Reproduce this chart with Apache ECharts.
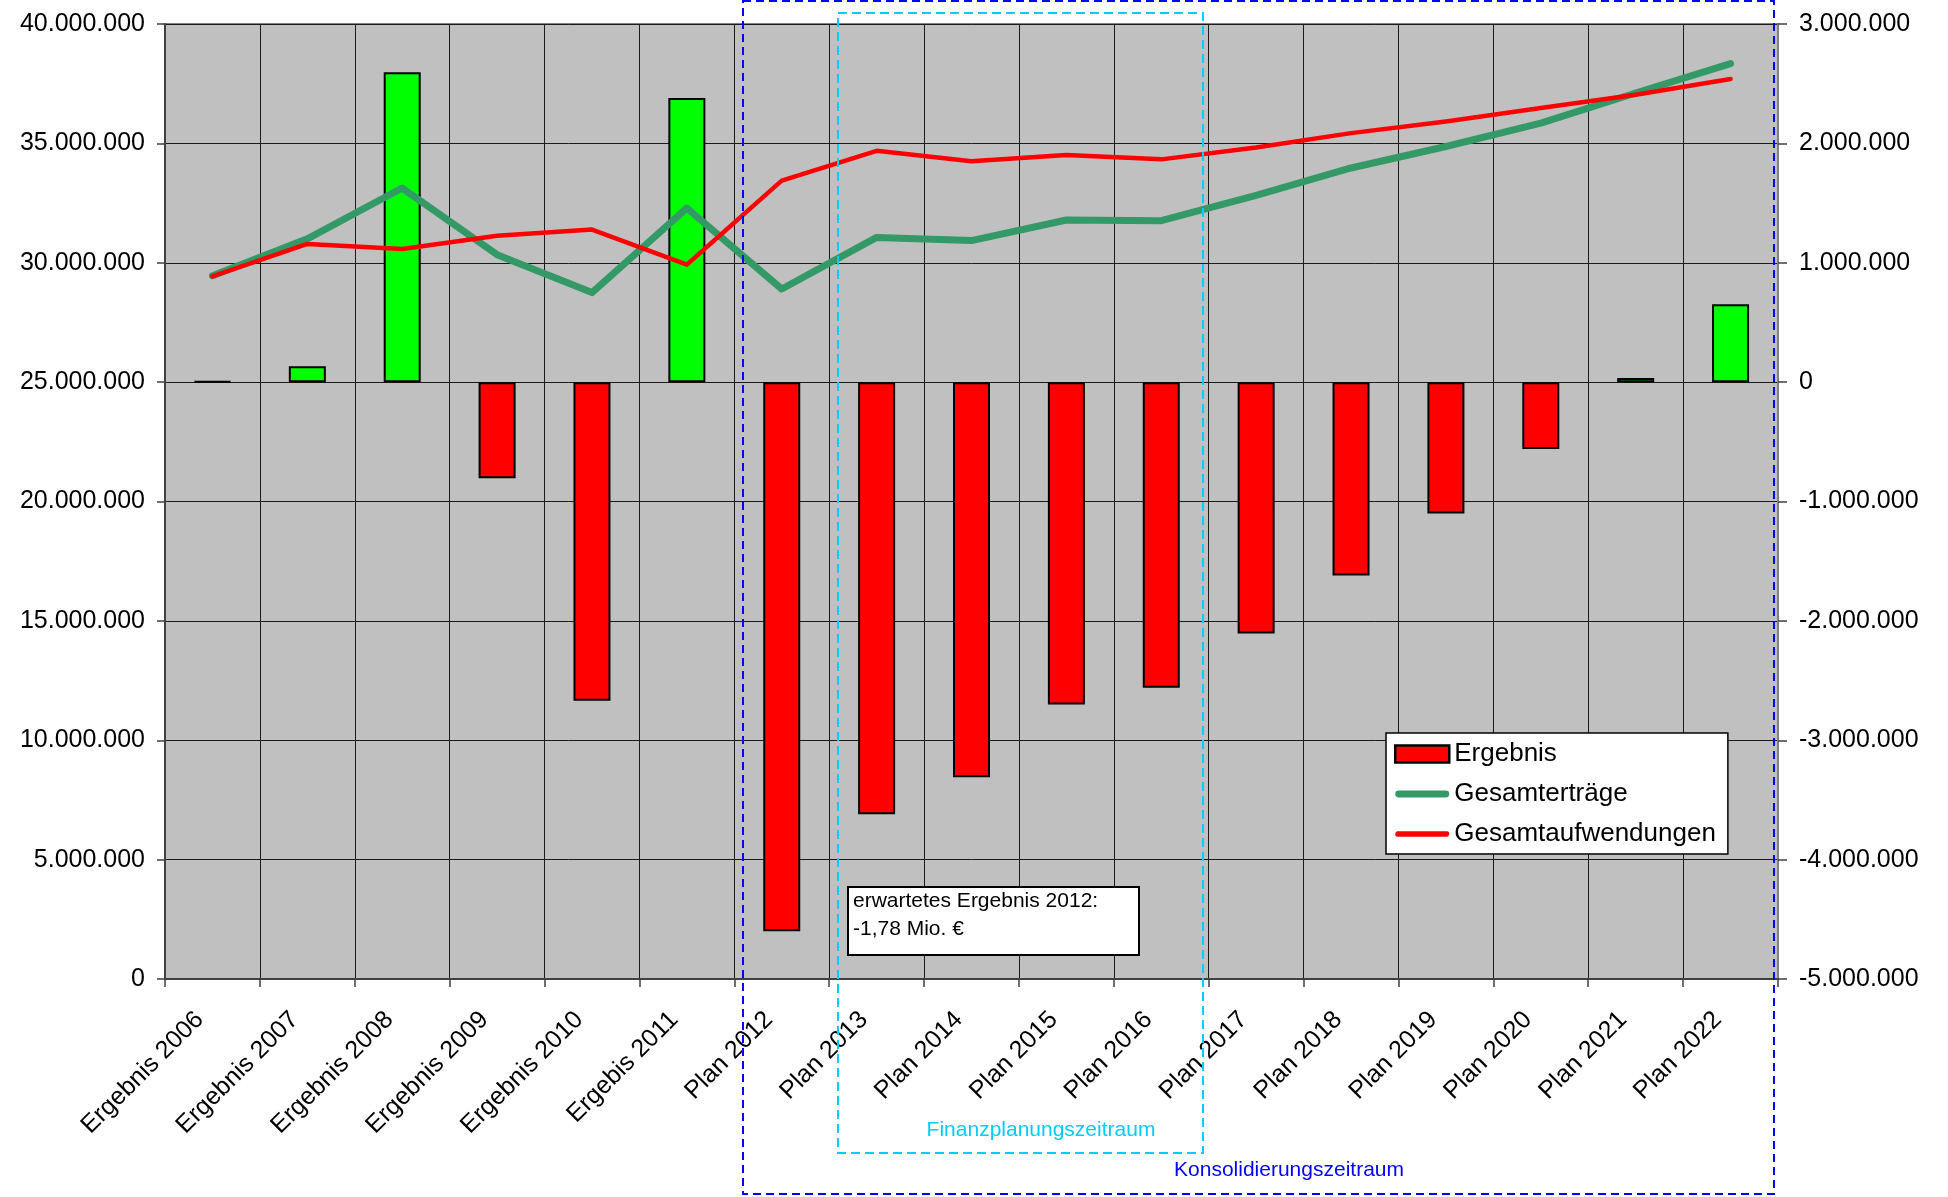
<!DOCTYPE html>
<html>
<head>
<meta charset="utf-8">
<script src="https://cdn.jsdelivr.net/npm/echarts@6/dist/echarts.min.js"></script>
<style>
html,body{margin:0;padding:0;background:#fff;}
#c{width:1948px;height:1197px;}
</style>
</head>
<body>
<div id="c"></div>
<script>
const categories = ['Ergebnis 2006','Ergebnis 2007','Ergebnis 2008','Ergebnis 2009','Ergebnis 2010','Ergebis 2011',
  'Plan 2012','Plan 2013','Plan 2014','Plan 2015','Plan 2016','Plan 2017','Plan 2018','Plan 2019','Plan 2020','Plan 2021','Plan 2022'];
const ergebnis = [8000, 132000, 2595000, -805000, -2670000, 2380000, -4600000, -3620000, -3310000, -2700000, -2560000, -2105000, -1620000, -1100000, -560000, 35000, 653000];
const gesamtertraege = [29460000, 31000000, 33130000, 30340000, 28750000, 32290000, 28900000, 31060000, 30930000, 31790000, 31760000, 32820000, 33970000, 34870000, 35850000, 37110000, 38340000];
const gesamtaufwendungen = [29430000, 30790000, 30580000, 31130000, 31390000, 29920000, 33440000, 34690000, 34250000, 34510000, 34330000, 34830000, 35430000, 35920000, 36480000, 37040000, 37700000];
const leftAxis = {min: 0, max: 40000000, interval: 5000000};
const rightAxis = {min: -5000000, max: 3000000, interval: 1000000};
const seriesNames = ['Ergebnis', 'Gesamterträge', 'Gesamtaufwendungen'];
const noteLines = ['erwartetes Ergebnis 2012:', '-1,78 Mio. €'];
const periodLabels = ['Finanzplanungszeitraum', 'Konsolidierungszeitraum'];

const FONT = '"Liberation Sans", Arial, sans-serif';
function fmt(v) {
  const s = Math.abs(Math.round(v)).toString().replace(/\B(?=(\d{3})+(?!\d))/g, '.');
  return (v < 0 ? '-' : '') + s;
}

const chart = echarts.init(document.getElementById('c'));
chart.setOption({
  animation: false,
  backgroundColor: '#ffffff',
  textStyle: {fontFamily: FONT},
  grid: {left: 165, top: 24, right: 170, bottom: 218, show: true, backgroundColor: '#C0C0C0',
         borderColor: '#808080', borderWidth: 2, containLabel: false, outerBoundsMode: 'none'},
  xAxis: {
    type: 'category', data: categories, boundaryGap: true,
    axisLine: {show: true, lineStyle: {color: '#404040', width: 2}},
    axisTick: {show: true, length: 8, interval: 0, lineStyle: {color: '#404040', width: 1.5}},
    axisLabel: {interval: 0, rotate: 45, fontSize: 25, color: '#000', fontFamily: FONT, margin: 24, padding: [0, 18, 0, 0], hideOverlap: false},
    splitLine: {show: true, interval: 0, lineStyle: {color: '#1a1a1a', width: 1}}
  },
  yAxis: [
    {type: 'value', position: 'left', min: leftAxis.min, max: leftAxis.max, interval: leftAxis.interval,
     axisLine: {show: true, lineStyle: {color: '#404040', width: 2}},
     axisTick: {show: true, length: 8, lineStyle: {color: '#404040', width: 1.5}},
     axisLabel: {fontSize: 25, color: '#000', fontFamily: FONT, margin: 20, formatter: fmt},
     splitLine: {show: true, lineStyle: {color: '#1a1a1a', width: 1}}},
    {type: 'value', position: 'right', min: rightAxis.min, max: rightAxis.max, interval: rightAxis.interval,
     axisLine: {show: true, lineStyle: {color: '#808080', width: 2}},
     axisTick: {show: true, length: 9, lineStyle: {color: '#404040', width: 1.5}},
     axisLabel: {fontSize: 25, color: '#000', fontFamily: FONT, margin: 21, formatter: fmt},
     splitLine: {show: false}}
  ],
  legend: {
    orient: 'vertical', left: 1386, top: 733,
    backgroundColor: '#ffffff', borderColor: '#000', borderWidth: 1.5,
    padding: [8, 12, 7, 8], itemGap: 14, itemWidth: 54, itemHeight: 17, itemTextGap: 7,
    textStyle: {fontSize: 26, color: '#000', fontFamily: FONT},
    selectedMode: false,
    data: [
      {name: seriesNames[0], icon: 'rect', itemStyle: {color: '#FF0000', borderColor: '#000', borderWidth: 2.5}},
      {name: seriesNames[1], icon: 'path://M6,0H94A6,6 0 0 1 94,13H6A6,6 0 0 1 6,0Z', itemStyle: {color: '#339966', borderWidth: 0}},
      {name: seriesNames[2], icon: 'path://M5,0H95A5,5 0 0 1 95,9.5H5A5,5 0 0 1 5,0Z', itemStyle: {color: '#FF0000', borderWidth: 0}}
    ]
  },
  series: [
    {name: seriesNames[0], type: 'bar', yAxisIndex: 1, barWidth: 37, z: 2,
     itemStyle: {color: '#FF0000', borderColor: '#000', borderWidth: 2},
     data: ergebnis.map(v => ({value: v, itemStyle: {color: v >= 0 ? '#00FF00' : '#FF0000'}}))},
    {name: seriesNames[1], type: 'line', yAxisIndex: 0, symbol: 'none', z: 3,
     itemStyle: {color: '#339966'},
     lineStyle: {color: '#339966', width: 7, cap: 'round', join: 'round'},
     data: gesamtertraege},
    {name: seriesNames[2], type: 'line', yAxisIndex: 0, symbol: 'none', z: 4,
     itemStyle: {color: '#FF0000'},
     lineStyle: {color: '#FF0000', width: 4.5, cap: 'round', join: 'round'},
     data: gesamtaufwendungen}
  ],
  graphic: [
    {type: 'rect', z: 100, silent: true, shape: {x: 743, y: 1, width: 1031, height: 1193},
     style: {fill: 'none', stroke: '#0000FF', lineWidth: 2, lineDash: [8, 5]}},
    {type: 'rect', z: 100, silent: true, shape: {x: 838, y: 13, width: 365, height: 1140},
     style: {fill: 'none', stroke: '#00CCFF', lineWidth: 2, lineDash: [9, 5]}},
    {type: 'text', z: 101, silent: true, x: 1041, y: 1130,
     style: {text: periodLabels[0], fill: '#00CCFF', fontSize: 21, fontFamily: FONT, align: 'center', verticalAlign: 'middle'}},
    {type: 'text', z: 101, silent: true, x: 1289, y: 1170,
     style: {text: periodLabels[1], fill: '#0000FF', fontSize: 21, fontFamily: FONT, align: 'center', verticalAlign: 'middle'}},
    {type: 'rect', z: 100, silent: true, shape: {x: 848, y: 887, width: 291, height: 68},
     style: {fill: '#ffffff', stroke: '#000', lineWidth: 2}},
    {type: 'text', z: 101, silent: true, x: 853, y: 901,
     style: {text: noteLines[0], fill: '#000', fontSize: 21, fontFamily: FONT, align: 'left', verticalAlign: 'middle'}},
    {type: 'text', z: 101, silent: true, x: 853, y: 929,
     style: {text: noteLines[1], fill: '#000', fontSize: 21, fontFamily: FONT, align: 'left', verticalAlign: 'middle'}}
  ]
});
</script>
</body>
</html>
